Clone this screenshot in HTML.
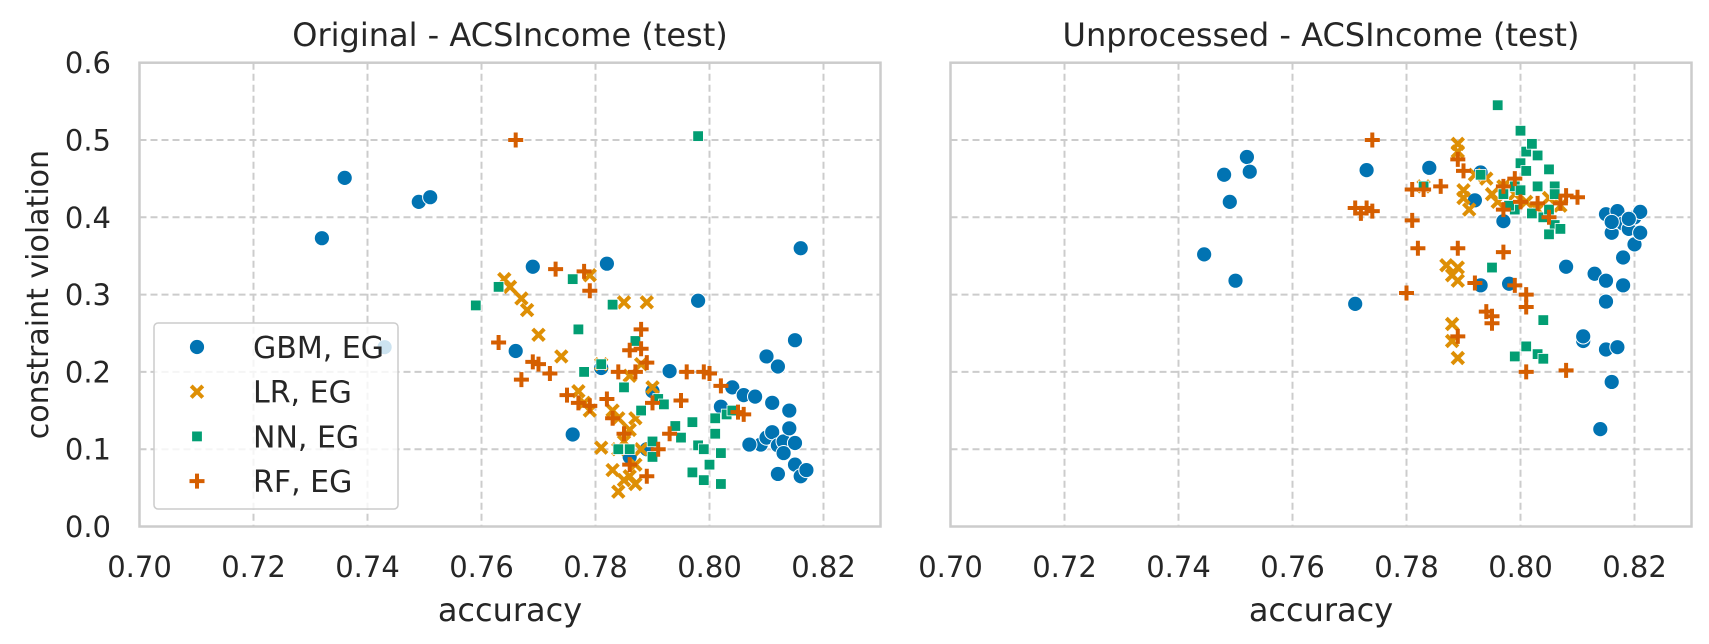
<!DOCTYPE html>
<html><head><meta charset="utf-8"><style>
html,body{margin:0;padding:0;background:#fff;}
svg{display:block;font-family:"DejaVu Sans","Liberation Sans",sans-serif;}
</style></head><body>
<svg id="chart" width="1709" height="644" viewBox="0 0 1709 644"></svg>
<script>
const xTicks=[0.70,0.72,0.74,0.76,0.78,0.80,0.82];
const yTicks=[0.0,0.1,0.2,0.3,0.4,0.5,0.6];
const seriesNames=["GBM, EG","LR, EG","NN, EG","RF, EG"];
const leftGBM=[[0.732,0.373],[0.736,0.451],[0.749,0.420],[0.751,0.426],[0.743,0.232],[0.766,0.227],[0.769,0.336],[0.782,0.340],[0.776,0.119],[0.781,0.205],[0.798,0.292],[0.793,0.201],[0.802,0.155],[0.804,0.180],[0.806,0.170],[0.808,0.168],[0.810,0.220],[0.812,0.207],[0.815,0.241],[0.816,0.360],[0.809,0.106],[0.810,0.115],[0.811,0.122],[0.812,0.105],[0.813,0.110],[0.814,0.127],[0.813,0.095],[0.812,0.068],[0.815,0.080],[0.816,0.065],[0.817,0.073],[0.815,0.108],[0.814,0.150],[0.811,0.160],[0.789,0.100],[0.790,0.175],[0.786,0.090],[0.807,0.106]];
const leftLR=[[0.764,0.320],[0.765,0.310],[0.767,0.295],[0.768,0.280],[0.770,0.248],[0.774,0.220],[0.777,0.175],[0.778,0.160],[0.781,0.102],[0.783,0.073],[0.784,0.045],[0.785,0.060],[0.786,0.065],[0.787,0.080],[0.785,0.110],[0.786,0.125],[0.787,0.140],[0.788,0.100],[0.789,0.290],[0.785,0.290],[0.779,0.325],[0.781,0.210],[0.790,0.180],[0.788,0.210],[0.784,0.140],[0.786,0.195],[0.783,0.150],[0.784,0.100],[0.787,0.055],[0.779,0.150]];
const leftNN=[[0.759,0.286],[0.763,0.310],[0.776,0.320],[0.777,0.255],[0.778,0.200],[0.781,0.210],[0.783,0.287],[0.785,0.180],[0.787,0.240],[0.788,0.150],[0.790,0.110],[0.791,0.165],[0.792,0.158],[0.794,0.130],[0.795,0.115],[0.797,0.070],[0.797,0.135],[0.798,0.105],[0.799,0.100],[0.799,0.060],[0.800,0.080],[0.801,0.120],[0.801,0.140],[0.802,0.095],[0.802,0.055],[0.803,0.145],[0.804,0.150],[0.798,0.505],[0.786,0.100],[0.784,0.100],[0.790,0.090]];
const leftRF=[[0.766,0.500],[0.763,0.238],[0.767,0.190],[0.769,0.213],[0.770,0.210],[0.772,0.198],[0.773,0.333],[0.775,0.170],[0.777,0.160],[0.778,0.330],[0.779,0.305],[0.779,0.156],[0.782,0.165],[0.783,0.140],[0.784,0.200],[0.785,0.120],[0.786,0.228],[0.787,0.200],[0.788,0.255],[0.789,0.212],[0.790,0.160],[0.789,0.065],[0.791,0.100],[0.793,0.120],[0.795,0.163],[0.796,0.200],[0.799,0.200],[0.800,0.198],[0.802,0.182],[0.805,0.148],[0.806,0.145],[0.786,0.080],[0.788,0.230]];
const rightGBM=[[0.7445,0.352],[0.748,0.455],[0.749,0.420],[0.750,0.318],[0.752,0.478],[0.7525,0.459],[0.771,0.288],[0.773,0.461],[0.784,0.464],[0.792,0.422],[0.793,0.458],[0.793,0.312],[0.797,0.395],[0.798,0.314],[0.808,0.336],[0.811,0.240],[0.811,0.246],[0.813,0.327],[0.814,0.126],[0.815,0.318],[0.815,0.291],[0.815,0.229],[0.816,0.187],[0.817,0.232],[0.815,0.404],[0.816,0.380],[0.817,0.395],[0.817,0.408],[0.818,0.392],[0.819,0.385],[0.820,0.400],[0.820,0.365],[0.821,0.407],[0.821,0.380],[0.818,0.348],[0.818,0.312],[0.819,0.398],[0.816,0.394]];
const rightLR=[[0.783,0.440],[0.789,0.495],[0.789,0.485],[0.790,0.435],[0.790,0.425],[0.791,0.410],[0.792,0.455],[0.787,0.338],[0.788,0.325],[0.789,0.335],[0.789,0.318],[0.788,0.262],[0.788,0.240],[0.789,0.218],[0.794,0.450],[0.795,0.430],[0.796,0.420],[0.797,0.440],[0.799,0.430],[0.801,0.420],[0.803,0.410],[0.805,0.425],[0.807,0.415]];
const rightNN=[[0.783,0.440],[0.793,0.455],[0.796,0.545],[0.799,0.440],[0.800,0.512],[0.801,0.485],[0.802,0.495],[0.803,0.480],[0.800,0.470],[0.801,0.460],[0.799,0.410],[0.798,0.415],[0.797,0.430],[0.800,0.435],[0.803,0.440],[0.804,0.400],[0.805,0.462],[0.806,0.440],[0.805,0.410],[0.806,0.390],[0.807,0.385],[0.805,0.378],[0.799,0.220],[0.801,0.233],[0.803,0.223],[0.804,0.217],[0.804,0.267],[0.795,0.335],[0.802,0.405],[0.806,0.430]];
const rightRF=[[0.774,0.500],[0.773,0.412],[0.771,0.412],[0.772,0.405],[0.774,0.408],[0.781,0.436],[0.781,0.396],[0.782,0.360],[0.780,0.302],[0.783,0.436],[0.786,0.440],[0.789,0.475],[0.790,0.460],[0.789,0.360],[0.789,0.246],[0.792,0.315],[0.794,0.278],[0.795,0.272],[0.795,0.263],[0.797,0.355],[0.797,0.440],[0.799,0.450],[0.799,0.312],[0.801,0.300],[0.801,0.284],[0.801,0.200],[0.803,0.418],[0.805,0.400],[0.807,0.418],[0.808,0.428],[0.808,0.202],[0.810,0.426],[0.797,0.410],[0.800,0.420]];

const NS="http://www.w3.org/2000/svg";
const svgEl=document.getElementById('chart');
const colors=["#0173b2","#de8f05","#029e73","#d55e00"];
const shapes=["circle","x","square","plus"];
function mk(tag,attrs,parent){const e=document.createElementNS(NS,tag);for(const k in attrs)e.setAttribute(k,attrs[k]);(parent||svgEl).appendChild(e);return e;}
function marker(shape,cx,cy,col,parent){
  let e;
  if(shape==="circle"){e=mk('circle',{cx:cx,cy:cy,r:7.6,fill:col,stroke:'#fff','stroke-width':1},parent);}
  else if(shape==="square"){e=mk('rect',{x:cx-5.3,y:cy-5.3,width:10.6,height:10.6,fill:col,stroke:'#fff','stroke-width':0.8},parent);}
  else if(shape==="x"){const d=5.8;e=mk('path',{d:`M${cx-d},${cy-d}L${cx+d},${cy+d}M${cx-d},${cy+d}L${cx+d},${cy-d}`,stroke:col,'stroke-width':4,fill:'none'},parent);}
  else {const d=7.5;e=mk('path',{d:`M${cx-d},${cy}L${cx+d},${cy}M${cx},${cy-d}L${cx},${cy+d}`,stroke:col,'stroke-width':4,fill:'none'},parent);}
  return e;
}
const panels=[
 {name:'original',left:139.5,right:880.5,title:'Original - ACSIncome (test)',data:[leftGBM,leftLR,leftNN,leftRF],ylabels:true,legend:true},
 {name:'unprocessed',left:950.5,right:1691.5,title:'Unprocessed - ACSIncome (test)',data:[rightGBM,rightLR,rightNN,rightRF],ylabels:false,legend:false}
];
const plotTop=62.7,plotBottom=526.5;
panels.forEach(p=>{
  const unit=(p.right-p.left)/0.13;
  const X=v=>p.left+(v-0.70)*unit;
  const Y=v=>plotBottom-(v/0.6)*(plotBottom-plotTop);
  const g=mk('g',{});
  
  
  xTicks.forEach(t=>{
    const l=mk('line',{x1:X(t),x2:X(t),y1:plotTop,y2:plotBottom,stroke:'#cccccc','stroke-width':2,'stroke-dasharray':'7,4'},g);
    
    
    const tx=mk('text',{x:X(t),y:577,'text-anchor':'middle','font-size':29,fill:'#262626'},g);
    tx.textContent=t.toFixed(2);
    
    
  });
  yTicks.forEach(t=>{
    const l=mk('line',{x1:p.left,x2:p.right,y1:Y(t),y2:Y(t),stroke:'#cccccc','stroke-width':2,'stroke-dasharray':'7,4'},g);
    
    
    if(p.ylabels){
      const tx=mk('text',{x:111,y:Y(t)+10.5,'text-anchor':'end','font-size':29,fill:'#262626'},g);
      tx.textContent=t.toFixed(1);
      
      
    }
  });
  const fr=mk('rect',{x:p.left,y:plotTop,width:p.right-p.left,height:plotBottom-plotTop,fill:'none',stroke:'#cccccc','stroke-width':2.5},g);
  
  
  p.data.forEach((ser,si)=>{
    ser.forEach(pt=>{
      const m=marker(shapes[si],X(pt[0]),Y(pt[1]),colors[si],g);
      
      
    });
  });
  const ti=mk('text',{x:(p.left+p.right)/2,y:46,'text-anchor':'middle','font-size':32,fill:'#262626'},g);
  ti.textContent=p.title;
  
  
  const xl=mk('text',{x:(p.left+p.right)/2,y:621,'text-anchor':'middle','font-size':32,fill:'#262626'},g);
  xl.textContent='accuracy';
  
  
  if(p.ylabels){
    const yl=mk('text',{x:0,y:0,transform:`translate(48,${(plotTop+plotBottom)/2}) rotate(-90)`,'text-anchor':'middle','font-size':30,fill:'#262626'},g);
    yl.textContent='constraint violation';
    
    
  }
  if(p.legend){
    const lg=mk('g',{},g);
    
    
    mk('rect',{x:154,y:323,width:244,height:186,rx:4,fill:'#fff','fill-opacity':0.8,stroke:'#cccccc','stroke-width':1.5},lg);
    seriesNames.forEach((n,i)=>{
      const cy=347+i*44.7;
      const e=mk('g',{},lg);
      
      
      marker(shapes[i],197,cy,colors[i],e);
      const t=mk('text',{x:253,y:cy+11,'font-size':30,fill:'#262626'},e);
      t.textContent=n;
    });
  }
});
</script>
</body></html>
